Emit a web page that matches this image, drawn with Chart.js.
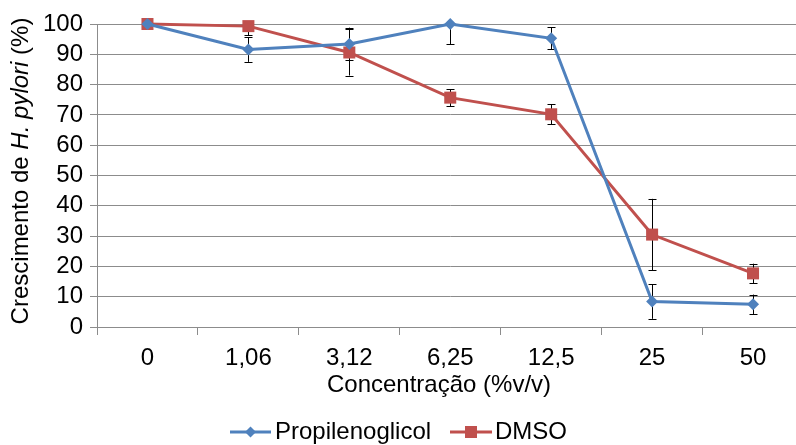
<!DOCTYPE html>
<html><head><meta charset="utf-8">
<script src="https://cdn.jsdelivr.net/npm/chart.js@4/dist/chart.umd.min.js"></script>
<style>html,body{margin:0;padding:0;overflow:hidden;background:#fff;width:796px;height:445px}canvas{display:block}</style>
</head><body>
<canvas id="c" width="812" height="445"></canvas>
<script>
const categories = ['0', '1,06', '3,12', '6,25', '12,5', '25', '50'];
const propilenoglicol = [100, 91.6, 93.4, 100, 95.3, 8.4, 7.5];
const propilenoglicolErr = [0, 4.1, 5.4, 6.6, 3.7, 5.7, 3.2];
const dmso = [100, 99.3, 90.6, 75.7, 70.2, 30.5, 17.7];
const dmsoErr = [0, 3.0, 7.6, 2.8, 3.3, 11.8, 3.2];
const yTicks = [0, 10, 20, 30, 40, 50, 60, 70, 80, 90, 100];
const seriesNames = ['Propilenoglicol', 'DMSO'];
const xTitle = 'Concentração (%v/v)';
const yTitleParts = ['Crescimento de ', 'H. pylori', ' (%)'];

const FONT = "'Liberation Sans', Arial, sans-serif";
const BLUE = '#4F81BD', RED = '#C0504D', GRID = '#8c8c8c';

const extras = {
  id: 'extras',
  beforeDatasetsDraw(chart) {
    const {ctx, chartArea: a, scales: {x, y}} = chart;
    ctx.save();
    ctx.beginPath(); ctx.rect(a.left, a.top - 1, a.right - a.left, a.bottom - a.top + 2); ctx.clip();
    ctx.strokeStyle = '#000'; ctx.lineWidth = 1;
    [[propilenoglicol, propilenoglicolErr], [dmso, dmsoErr]].forEach(([vals, errs]) => {
      vals.forEach((v, i) => {
        const e = errs[i]; if (!e) return;
        const px = Math.round(x.getPixelForValue(i)) + 0.5;
        const t = y.getPixelForValue(v + e), b = y.getPixelForValue(v - e);
        ctx.beginPath();
        ctx.moveTo(px, t); ctx.lineTo(px, b);
        ctx.moveTo(px - 4, Math.round(t) + 0.5); ctx.lineTo(px + 4, Math.round(t) + 0.5);
        ctx.moveTo(px - 4, Math.round(b) + 0.5); ctx.lineTo(px + 4, Math.round(b) + 0.5);
        ctx.stroke();
      });
    });
    ctx.restore();
  },
  afterDraw(chart) {
    const ctx = chart.ctx;
    ctx.save();
    ctx.fillStyle = '#000';
    ctx.textBaseline = 'middle';
    // y title
    const fonts = ['24px ' + FONT, 'italic 24px ' + FONT, '24px ' + FONT];
    let widths = yTitleParts.map((p, i) => { ctx.font = fonts[i]; return ctx.measureText(p).width; });
    const total = widths.reduce((s, w) => s + w, 0);
    ctx.translate(21, 171);
    ctx.rotate(-Math.PI / 2);
    let xx = -total / 2;
    ctx.textAlign = 'left';
    yTitleParts.forEach((p, i) => { ctx.font = fonts[i]; ctx.fillText(p, xx, 0); xx += widths[i]; });
    ctx.setTransform(1, 0, 0, 1, 0, 0);
    // x title
    ctx.font = '24px ' + FONT;
    ctx.textAlign = 'center';
    ctx.fillText(xTitle, 439, 385);
    // legend
    ctx.textAlign = 'left';
    const items = [
      {x0: 230, x1: 271, color: BLUE, shape: 'd', tx: 275, label: seriesNames[0]},
      {x0: 450, x1: 492, color: RED, shape: 's', tx: 495, label: seriesNames[1]}
    ];
    const ly = 432;
    items.forEach(it => {
      ctx.strokeStyle = it.color; ctx.lineWidth = 3;
      ctx.beginPath(); ctx.moveTo(it.x0, ly); ctx.lineTo(it.x1, ly); ctx.stroke();
      ctx.fillStyle = it.color;
      const cx = (it.x0 + it.x1) / 2;
      ctx.beginPath();
      if (it.shape === 'd') {
        ctx.moveTo(cx - 5.5, ly); ctx.lineTo(cx, ly - 5.5); ctx.lineTo(cx + 5.5, ly); ctx.lineTo(cx, ly + 5.5); ctx.closePath();
      } else {
        ctx.rect(cx - 6, ly - 6, 12, 12);
      }
      ctx.fill();
      ctx.fillStyle = '#000';
      ctx.fillText(it.label, it.tx, ly);
    });
    ctx.restore();
  }
};

new Chart(document.getElementById('c'), {
  type: 'line',
  data: {
    labels: categories,
    datasets: [
      {label: seriesNames[0], data: propilenoglicol, borderColor: BLUE, backgroundColor: BLUE,
       borderWidth: 3, pointStyle: 'rectRot', pointRadius: 6, pointBorderWidth: 0, tension: 0, fill: false, clip: false},
      {label: seriesNames[1], data: dmso, borderColor: RED, backgroundColor: RED,
       borderWidth: 3, pointStyle: 'rect', pointRadius: 8.5, pointBorderWidth: 0, tension: 0, fill: false, clip: false}
    ]
  },
  options: {
    responsive: false,
    animation: false,
    devicePixelRatio: 1,
    layout: {padding: {top: 24, right: 8, bottom: 0, left: 0}},
    plugins: {legend: {display: false}, tooltip: {enabled: false}},
    scales: {
      x: {
        offset: true,
        grid: {offset: true, drawOnChartArea: false, color: GRID, tickLength: 8, lineWidth: 1},
        border: {color: GRID, width: 1},
        ticks: {font: {family: FONT, size: 24}, color: '#000', padding: 9, maxRotation: 0, autoSkip: false},
        afterFit(s) { s.height = 118; }
      },
      y: {
        min: 0, max: 100,
        afterBuildTicks(s) { s.ticks = yTicks.map(v => ({value: v})); },
        grid: {color: GRID, tickLength: 7, lineWidth: 1},
        border: {color: GRID, width: 1},
        ticks: {font: {family: FONT, size: 24}, color: '#000', padding: 7, autoSkip: false},
        afterFit(s) { s.width = 97; }
      }
    }
  },
  plugins: [extras]
});
</script>
</body></html>
